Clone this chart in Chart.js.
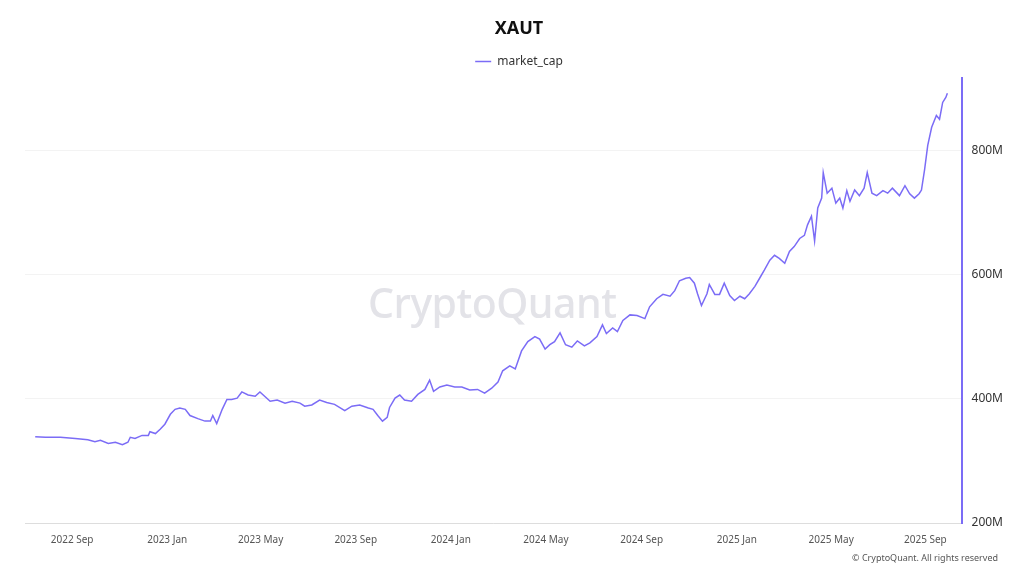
<!DOCTYPE html>
<html>
<head>
<meta charset="utf-8">
<script src="https://cdn.jsdelivr.net/npm/chart.js@4/dist/chart.umd.min.js"></script>
<style>
  html, body { margin: 0; padding: 0; background: #fff; }
  #wrap { position: relative; width: 1024px; height: 576px; }
  #watermark { position: absolute; left: 368px; top: 274px; font: 500 41px 'Noto Sans', sans-serif; color: #e3e3e8; letter-spacing: -0.5px; pointer-events: none; }
  #copy { position: absolute; right: 26px; top: 551px; font: 9px 'Noto Sans', sans-serif; color: #555; }
</style>
</head>
<body>
<div id="wrap">
  <div id="watermark">CryptoQuant</div>
  <canvas id="chart" width="1024" height="576"></canvas>
  <div id="copy">© CryptoQuant. All rights reserved</div>
</div>
<script>
// days since 2022-07-01
const days = [15, 28, 47, 66, 82, 91, 98, 108, 117, 126, 133, 136, 142, 151, 159, 161, 168, 174, 180, 187,
  193, 199, 206, 212, 222, 231, 238, 241, 246, 253, 259, 265, 272, 278, 286, 295, 301, 307, 314, 323,
  333, 342, 352, 358, 367, 377, 386, 396, 409, 418, 428, 439, 445, 451, 457, 463, 466, 473, 479, 485,
  494, 502, 511, 517, 522, 530, 539, 549, 558, 568, 578, 587, 596, 604, 610, 619, 626, 634, 642, 651,
  657, 664, 670, 676, 683, 690, 698, 705, 714, 721, 730, 737, 742, 750, 756, 763, 772, 781, 791, 797,
  806, 814, 823, 829, 835, 843, 848, 854, 858, 863, 870, 873, 880, 886, 892, 899, 905, 912, 918, 924,
  931, 937, 943, 950, 956, 962, 969, 975, 981, 988, 994, 998, 1003, 1007, 1011, 1016, 1018, 1023, 1029, 1034,
  1039, 1043, 1048, 1052, 1058, 1064, 1070, 1074, 1080, 1086, 1094, 1100, 1106, 1115, 1122, 1128, 1134, 1140, 1143, 1147,
  1151, 1156, 1162, 1166, 1170, 1174, 1176];

// market cap in millions USD
const marketCap = [339, 338, 338, 336, 334, 331, 333, 328, 330, 326, 330, 338, 336, 341, 341, 347, 344, 351, 359, 375,
  383, 385, 383, 373, 368, 364, 364, 373, 360, 383, 399, 399, 401, 411, 406, 404, 411, 404, 396, 398,
  393, 396, 393, 388, 390, 398, 394, 391, 381, 388, 390, 385, 383, 373, 364, 370, 386, 401, 406, 398,
  396, 407, 415, 430, 412, 419, 422, 419, 419, 414, 415, 409, 417, 427, 445, 453, 448, 477, 492, 500,
  496, 480, 487, 492, 506, 487, 483, 493, 485, 490, 500, 519, 505, 514, 508, 526, 535, 534, 529, 548,
  561, 568, 565, 574, 590, 594, 595, 586, 569, 550, 569, 584, 568, 568, 586, 566, 558, 565, 561, 569,
  581, 594, 607, 623, 631, 626, 618, 637, 645, 658, 663, 680, 694, 654, 707, 723, 764, 731, 739, 715,
  723, 707, 735, 718, 736, 727, 739, 764, 731, 727, 735, 731, 739, 727, 743, 730, 723, 730, 736, 769,
  808, 837, 856, 850, 877, 885, 892];

const tickDays = [62, 183, 302, 423, 544, 665, 787, 908, 1028, 1148];
const tickLabels = ['2022 Sep', '2023 Jan', '2023 May', '2023 Sep', '2024 Jan', '2024 May', '2024 Sep', '2025 Jan', '2025 May', '2025 Sep'];
const yTicks = [200, 400, 600, 800];

const purple = '#7b6cf6';

new Chart(document.getElementById('chart'), {
  type: 'line',
  data: {
    datasets: [{
      label: 'market_cap',
      data: days.map((d, i) => ({ x: d, y: marketCap[i] })),
      borderColor: purple,
      backgroundColor: purple,
      borderWidth: 1.5,
      pointRadius: 0,
      tension: 0
    }]
  },
  options: {
    responsive: false,
    animation: false,
    layout: { padding: { left: 25, right: 11, top: 8, bottom: 27 } },
    plugins: {
      title: {
        display: true,
        text: 'XAUT',
        color: '#111',
        font: { family: 'Noto Sans', size: 18, weight: 'bold' },
        padding: { top: 10, bottom: 4 }
      },
      legend: {
        labels: {
          color: '#333',
          font: { family: 'Noto Sans', size: 12 },
          boxWidth: 16,
          boxHeight: 0,
          padding: 12
        }
      },
      tooltip: { enabled: false }
    },
    scales: {
      x: {
        type: 'linear',
        min: 2,
        max: 1194,
        afterBuildTicks: axis => { axis.ticks = tickDays.map(v => ({ value: v })); },
        ticks: {
          autoSkip: false,
          maxRotation: 0,
          color: '#555',
          font: { family: 'Noto Sans', size: 10 },
          callback: v => tickLabels[tickDays.indexOf(v)]
        },
        grid: { display: false },
        border: { color: '#ddd' }
      },
      y: {
        position: 'right',
        min: 200,
        max: 917,
        afterBuildTicks: axis => { axis.ticks = yTicks.map(v => ({ value: v })); },
        ticks: {
          color: '#333',
          font: { family: 'Noto Sans', size: 12 },
          padding: 10,
          callback: v => v + 'M'
        },
        grid: { color: '#f3f3f3', drawTicks: false },
        border: { color: purple, width: 2 }
      }
    }
  }
});
</script>
</body>
</html>
